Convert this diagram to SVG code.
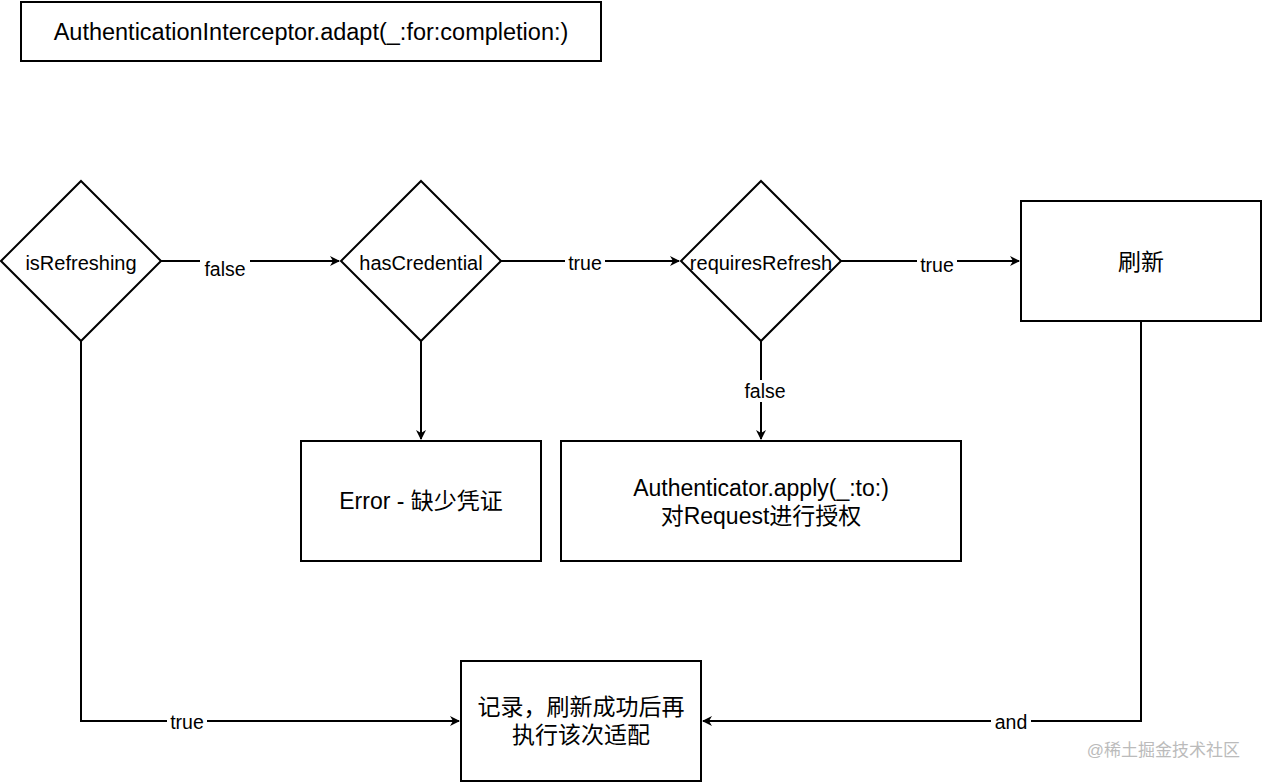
<svg xmlns="http://www.w3.org/2000/svg" width="1262" height="782" viewBox="0 0 1262 782">
<style>
.s{fill:#fff;stroke:#000;stroke-width:2}
.t{font-family:"Helvetica","Liberation Sans","Noto Sans CJK SC",sans-serif;text-anchor:middle;dominant-baseline:central;fill:#000}
.c{fill:none;stroke:#000;stroke-width:2}
.l{font-family:"Liberation Sans","Noto Sans CJK SC",sans-serif;font-size:19.5px;text-anchor:middle;dominant-baseline:central}
</style>
<defs><marker id="a" markerWidth="10" markerHeight="10" refX="9" refY="5" orient="auto" markerUnits="userSpaceOnUse"><path d="M0,0 L10,5 L0,10 L3,5 Z" fill="#000"/></marker></defs>
<rect width="1262" height="782" fill="#fff"/>
<g id="title"><rect class="s" x="21" y="2" width="580" height="59"/><text class="t" x="311" y="32" font-size="23.5">AuthenticationInterceptor.adapt(_:for:completion:)</text></g>
<g id="connectors">
<path class="c" d="M161,261 H339" marker-end="url(#a)"/>
<path class="c" d="M501,261 H679" marker-end="url(#a)"/>
<path class="c" d="M841,261 H1019" marker-end="url(#a)"/>
<path class="c" d="M421,341 V439" marker-end="url(#a)"/>
<path class="c" d="M761,341 V439" marker-end="url(#a)"/>
<path class="c" d="M81,341 V721 H459" marker-end="url(#a)"/>
<path class="c" d="M1141,321 V721 H703" marker-end="url(#a)"/>
<g class="l"><rect x="200" y="258" width="50" height="22" fill="#fff"/><text x="225" y="269">false</text>
<rect x="565" y="252" width="40" height="22" fill="#fff"/><text x="585" y="263">true</text>
<rect x="917" y="254" width="40" height="22" fill="#fff"/><text x="937" y="265">true</text>
<rect x="740" y="380" width="50" height="22" fill="#fff"/><text x="765" y="391">false</text>
<rect x="167" y="711" width="40" height="22" fill="#fff"/><text x="187" y="722">true</text>
<rect x="991" y="711" width="40" height="22" fill="#fff"/><text x="1011" y="722">and</text></g>
</g>
<g id="isRefreshing"><path class="s" d="M81,181 L161,261 L81,341 L1,261 Z"/><text class="t" x="81" y="263" font-size="20">isRefreshing</text></g>
<g id="hasCredential"><path class="s" d="M421,181 L501,261 L421,341 L341,261 Z"/><text class="t" x="421" y="263" font-size="20">hasCredential</text></g>
<g id="requiresRefresh"><path class="s" d="M761,181 L841,261 L761,341 L681,261 Z"/><text class="t" x="761" y="263" font-size="20">requiresRefresh</text></g>
<g id="refresh"><rect class="s" x="1021" y="201" width="240" height="120"/><text class="t" x="1141" y="262" font-size="23">刷新</text></g>
<g id="error"><rect class="s" x="301" y="441" width="240" height="120"/><text class="t" x="421" y="501" font-size="23">Error - 缺少凭证</text></g>
<g id="apply"><rect class="s" x="561" y="441" width="400" height="120"/><text class="t" x="761" y="488" font-size="23">Authenticator.apply(_:to:)</text><text class="t" x="761" y="516" font-size="23">对Request进行授权</text></g>
<g id="record"><rect class="s" x="461" y="661" width="240" height="120"/><text class="t" x="581" y="707" font-size="23">记录，刷新成功后再</text><text class="t" x="581" y="735" font-size="23">执行该次适配</text></g>
<text x="1240" y="750" font-family="Liberation Sans,Noto Sans CJK SC,sans-serif" font-size="17" fill="#bbb" text-anchor="end" dominant-baseline="central">@稀土掘金技术社区</text>
</svg>
